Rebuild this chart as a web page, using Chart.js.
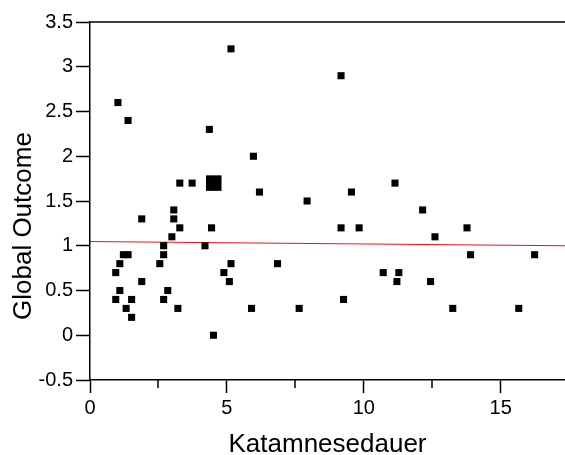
<!DOCTYPE html>
<html>
<head>
<meta charset="utf-8">
<script src="https://cdn.jsdelivr.net/npm/chart.js@4.4.1/dist/chart.umd.min.js"></script>
<style>
  body { margin: 0; background: #fff; }
  #wrap { width: 565px; height: 455px; position: relative; }
</style>
</head>
<body>
<div id="wrap"><canvas id="scatterChart"></canvas></div>
<script>
// Katamnesedauer (x) vs Global Outcome (y)
const durations = [5.15, 1.02, 1.39, 4.36, 3.28, 3.73, 3.06, 1.89, 3.06, 3.28, 4.44, 2.99, 2.69, 4.2,
    1.22, 1.39, 2.69, 1.09, 2.55, 5.15, 0.94, 4.89, 1.89, 5.09, 1.09, 2.84, 0.94, 1.52, 2.69, 1.32,
    3.21, 5.9, 1.52, 4.51, 9.17, 5.97, 11.14, 6.19, 9.55, 7.93, 9.17, 9.83, 6.85, 10.71, 11.28, 11.21,
    9.26, 7.64, 12.15, 13.77, 12.6, 13.9, 16.24, 12.44, 13.25, 15.66];
const outcomes = [3.2, 2.6, 2.4, 2.3, 1.7, 1.7, 1.4, 1.3, 1.3, 1.2, 1.2, 1.1, 1.0, 1.0,
    0.9, 0.9, 0.9, 0.8, 0.8, 0.8, 0.7, 0.7, 0.6, 0.6, 0.5, 0.5, 0.4, 0.4, 0.4, 0.3,
    0.3, 0.3, 0.2, 0.0, 2.9, 2.0, 1.7, 1.6, 1.6, 1.5, 1.2, 1.2, 0.8, 0.7, 0.7, 0.6,
    0.4, 0.3, 1.4, 1.2, 1.1, 0.9, 0.9, 0.6, 0.3, 0.3];
// overlapping cases, drawn as one bigger square
const bigX = [4.52];
const bigY = [1.7];
// regression line
const fitX = [0, 17.35];
const fitY = [1.047, 1.0];

const xTicks = [0, 5, 10, 15];
const xMinorTicks = [2.5, 7.5, 12.5];
const yTicks = [-0.5, 0, 0.5, 1, 1.5, 2, 2.5, 3, 3.5];
const yTitle = 'Global Outcome';

const toPoints = (xs, ys) => xs.map((x, i) => ({ x: x, y: ys[i] }));

// top frame line, minor x ticks and the y title (sits lower than centre in the original)
const frame = {
    id: 'frame',
    afterDraw(chart) {
        const { ctx, chartArea, scales } = chart;
        ctx.save();
        ctx.strokeStyle = '#000';
        ctx.lineWidth = 1.5;
        ctx.beginPath();
        ctx.moveTo(chartArea.left, chartArea.top);
        ctx.lineTo(chartArea.right, chartArea.top);
        xMinorTicks.forEach(v => {
            const px = Math.round(scales.x.getPixelForValue(v));
            ctx.moveTo(px, chartArea.bottom);
            ctx.lineTo(px, chartArea.bottom + 8);
        });
        ctx.stroke();

        ctx.translate(24, chartArea.top + chartArea.height * 0.57);
        ctx.rotate(-Math.PI / 2);
        ctx.fillStyle = '#000';
        ctx.font = '26px "Liberation Sans"';
        ctx.textAlign = 'center';
        ctx.textBaseline = 'middle';
        ctx.fillText(yTitle, 0, 0);
        ctx.restore();
    }
};

const ctx = document.getElementById('scatterChart').getContext('2d');
const chart = new Chart(ctx, {
    type: 'scatter',
    data: {
        datasets: [
            {
                label: 'Fälle',
                data: toPoints(durations, outcomes),
                pointStyle: 'rect',
                pointRadius: 5,
                borderWidth: 0,
                backgroundColor: '#000',
            },
            {
                label: 'mehrfach',
                data: toPoints(bigX, bigY),
                pointStyle: 'rect',
                pointRadius: 11,
                borderWidth: 0,
                backgroundColor: '#000',
            },
            {
                type: 'line',
                label: 'Regression',
                data: toPoints(fitX, fitY),
                borderColor: '#e8141b',
                borderWidth: 1,
                pointRadius: 0,
                fill: false,
            }
        ]
    },
    plugins: [frame],
    options: {
        responsive: true,
        maintainAspectRatio: false,
        animation: false,
        events: [],
        layout: { autoPadding: false, padding: { top: 22, right: 0, left: 0, bottom: 0 } },
        plugins: {
            legend: { display: false },
            tooltip: { enabled: false }
        },
        scales: {
            x: {
                type: 'linear',
                min: 0,
                max: 17.35,
                afterBuildTicks: axis => { axis.ticks = xTicks.map(v => ({ value: v })); },
                afterFit: axis => {
                    axis.height = 75;
                    axis.paddingLeft = 0;
                    axis.paddingRight = 0;
                },
                border: { color: '#000', width: 1.5 },
                grid: { drawOnChartArea: false, drawTicks: true, tickLength: 13, tickColor: '#000', tickWidth: 1.5 },
                ticks: { color: '#000', padding: 3, maxRotation: 0, font: { family: 'Liberation Sans', size: 20 } },
                title: {
                    display: true,
                    text: 'Katamnesedauer',
                    color: '#000',
                    padding: { top: 0, bottom: -5 },
                    font: { family: 'Liberation Sans', size: 26 }
                }
            },
            y: {
                type: 'linear',
                min: -0.5,
                max: 3.5,
                afterBuildTicks: axis => { axis.ticks = yTicks.map(v => ({ value: v })); },
                afterFit: axis => { axis.width = 90; },
                border: { color: '#000', width: 1.5 },
                grid: { drawOnChartArea: false, drawTicks: true, tickLength: 14, tickColor: '#000', tickWidth: 1.5 },
                ticks: {
                    color: '#000',
                    padding: 3,
                    font: { family: 'Liberation Sans', size: 20 },
                    callback: v => String(v)
                }
            }
        }
    }
});
</script>
</body>
</html>
